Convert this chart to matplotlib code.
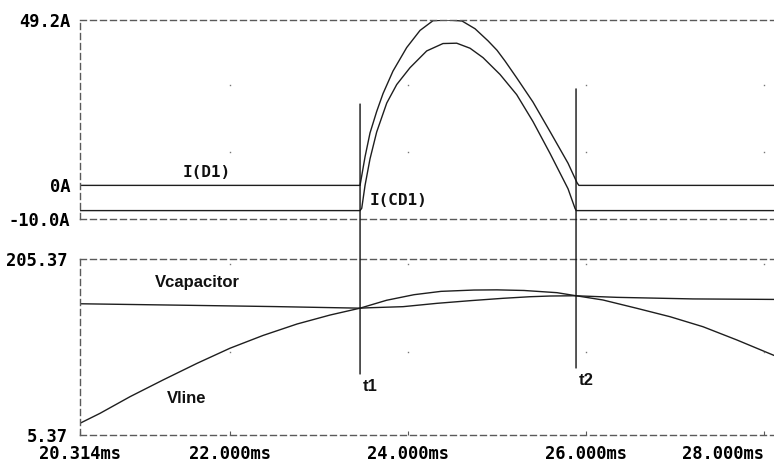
import matplotlib
matplotlib.use('Agg')
import matplotlib.pyplot as plt
from matplotlib.patches import ConnectionPatch
from matplotlib.font_manager import FontProperties

plt.rcParams['lines.scale_dashes'] = False

# ---------------- data ----------------
# I(D1): diode current [A] vs time [ms]
id1_t = [20.314, 23.461, 23.517, 23.573, 23.648, 23.719, 23.831, 23.985, 24.135,
         24.281, 24.45, 24.607, 24.753, 24.899, 25.0, 25.09, 25.221, 25.404,
         25.596, 25.798, 25.899, 25.92, 28.18]
id1_v = [0.0, 0.0, 8.5, 15.6, 22.0, 27.3, 34.0, 41.0, 46.1,
         49.0, 49.2, 48.9, 46.6, 43.0, 40.2, 37.0, 32.0, 24.8,
         16.0, 6.6, 0.8, 0.0, 0.0]

# I(CD1): capacitor current [A]
icd1_t = [20.314, 23.461, 23.48, 23.517, 23.573, 23.648, 23.761, 23.873, 24.022,
          24.21, 24.393, 24.547, 24.697, 24.843, 25.034, 25.221, 25.404, 25.596,
          25.798, 25.876, 25.89, 28.18]
icd1_v = [-7.5, -7.5, -6.8, 0.0, 7.9, 15.9, 24.5, 30.0, 35.0,
          40.0, 42.2, 42.3, 40.8, 38.0, 33.0, 27.0, 19.0, 9.5,
          -1.0, -6.8, -7.5, -7.5]

# Vline [V]
vline_t = [20.314, 20.539, 20.876, 21.247, 21.629, 22.0, 22.371, 22.753, 23.124,
           23.461, 23.76, 24.067, 24.371, 24.742, 25.0, 25.303, 25.674, 25.876,
           26.19, 26.573, 26.944, 27.315, 27.697, 28.101, 28.18]
vline_v = [18.7, 30.0, 48.9, 67.9, 86.8, 104.0, 118.5, 131.5, 141.7,
           149.5, 158.5, 164.8, 168.6, 170.1, 170.3, 169.6, 167.1, 163.8,
           158.8, 149.3, 139.8, 128.4, 113.3, 96.3, 93.0]

# Vcapacitor [V]
vcap_t = [20.314, 21.5, 22.5, 23.461, 23.573, 23.944, 24.326, 24.697, 25.067,
          25.371, 25.596, 25.876, 26.348, 27.202, 28.18]
vcap_v = [154.5, 152.8, 151.3, 149.5, 150.0, 151.2, 155.0, 158.0, 160.7,
          162.5, 163.3, 163.6, 161.8, 160.0, 159.4]

# cursors
cursor_t = [23.461, 25.888]
cursor_names = ['t1', 't2']
cursor_top_A = [24.2, 28.7]
cursor_bottom_V = [74.7, 81.5]

# axes / ticks
x_min, x_max = 20.314, 28.18
x_ticks = [20.314, 22.0, 24.0, 26.0, 28.0]
x_tick_labels = ['20.314ms', '22.000ms', '24.000ms', '26.000ms', '28.000ms']
top_ylim = [-10.0, 49.2]
top_yticks = [-10.0, 0.0, 49.2]
top_ytick_labels = ['-10.0A', '0A', '49.2A']
bot_ylim = [5.37, 205.37]
bot_yticks = [5.37, 205.37]
bot_ytick_labels = ['5.37', '205.37']
grid_x = [22.0, 24.0, 26.0, 28.0]
top_grid_y = [10.0, 30.0]
bot_grid_y = [100.0, 200.0]

# ---------------- figure ----------------
W, H = 774, 463
fig = plt.figure(figsize=(W / 100, H / 100), dpi=100)
fig.patch.set_facecolor('white')


def px_rect(l, t, r, b):
    return [l / W, 1 - b / H, (r - l) / W, (b - t) / H]


ax1 = fig.add_axes(px_rect(80, 20, 780, 219))
ax2 = fig.add_axes(px_rect(80, 259, 780, 435))

mono = dict(family='DejaVu Sans Mono', weight='bold')
sans = dict(family='Liberation Sans', weight='bold')
line_col = '#1e1e1e'
frame_col = '#5a5a5a'
tick_fp = FontProperties(size=12.3, **mono)

for ax in (ax1, ax2):
    ax.set_xlim(x_min, x_max)
    for s in ('left', 'top', 'bottom'):
        ax.spines[s].set_linestyle((0, (4.3, 2.9)))
        ax.spines[s].set_color(frame_col)
        ax.spines[s].set_linewidth(1.0)
    ax.spines['right'].set_visible(False)
    ax.set_facecolor('white')

# top panel
ax1.set_ylim(*top_ylim)
ax1.plot(id1_t, id1_v, color=line_col, lw=1.0)
ax1.plot(icd1_t, icd1_v, color=line_col, lw=1.0)
ax1.set_xticks([])
ax1.set_yticks(top_yticks, top_ytick_labels)
ax1.tick_params(axis='y', length=0, pad=7)
for lab in ax1.get_yticklabels():
    lab.set_fontproperties(tick_fp)
gx1 = [x for x in grid_x for y in top_grid_y]
gy1 = [y for x in grid_x for y in top_grid_y]
ax1.plot(gx1, gy1, ls='none', marker='s', ms=1.0, color='#777777', mew=0)

ax1.text(21.74, 3.84, 'I(D1)', ha='center', va='center', fontsize=11.5, color='#111111', **mono)
ax1.text(23.573, -4.64, 'I(CD1)', ha='left', va='center', fontsize=11.5, color='#111111', **mono)

# bottom panel
ax2.set_ylim(*bot_ylim)
ax2.plot(vline_t, vline_v, color=line_col, lw=1.0)
ax2.plot(vcap_t, vcap_v, color=line_col, lw=1.0)
ax2.set_yticks(bot_yticks, bot_ytick_labels)
ax2.tick_params(axis='y', length=0, pad=9)
ax2.set_xticks(x_ticks, x_tick_labels)
ax2.tick_params(axis='x', direction='in', length=3, color=frame_col, pad=7.2)
for lab in ax2.get_yticklabels() + ax2.get_xticklabels():
    lab.set_fontproperties(tick_fp)
ax2.get_xticklabels()[-1].set_ha('right')
ax2.get_yticklabels()[0].set_va('center_baseline')
gx2 = [x for x in grid_x for y in bot_grid_y]
gy2 = [y for x in grid_x for y in bot_grid_y]
ax2.plot(gx2, gy2, ls='none', marker='s', ms=1.0, color='#777777', mew=0)

ax2.text(21.63, 178.1, 'Vcapacitor', ha='center', va='center', fontsize=12, color='#111111', **sans)
ax2.text(21.517, 46.9, 'Vline', ha='center', va='center', fontsize=12, color='#111111', **sans)

# cursors spanning both panels
for t, ytop, ybot, name in zip(cursor_t, cursor_top_A, cursor_bottom_V, cursor_names):
    con = ConnectionPatch(xyA=(t, ytop), coordsA=ax1.transData,
                          xyB=(t, ybot), coordsB=ax2.transData,
                          color='#111111', lw=1.0)
    fig.add_artist(con)
    ax2.text(t + 0.03, ybot - 14, name, ha='left', va='center', fontsize=12,
             color='#111111', **sans)

fig.savefig('out.png', dpi=100, facecolor='white')
